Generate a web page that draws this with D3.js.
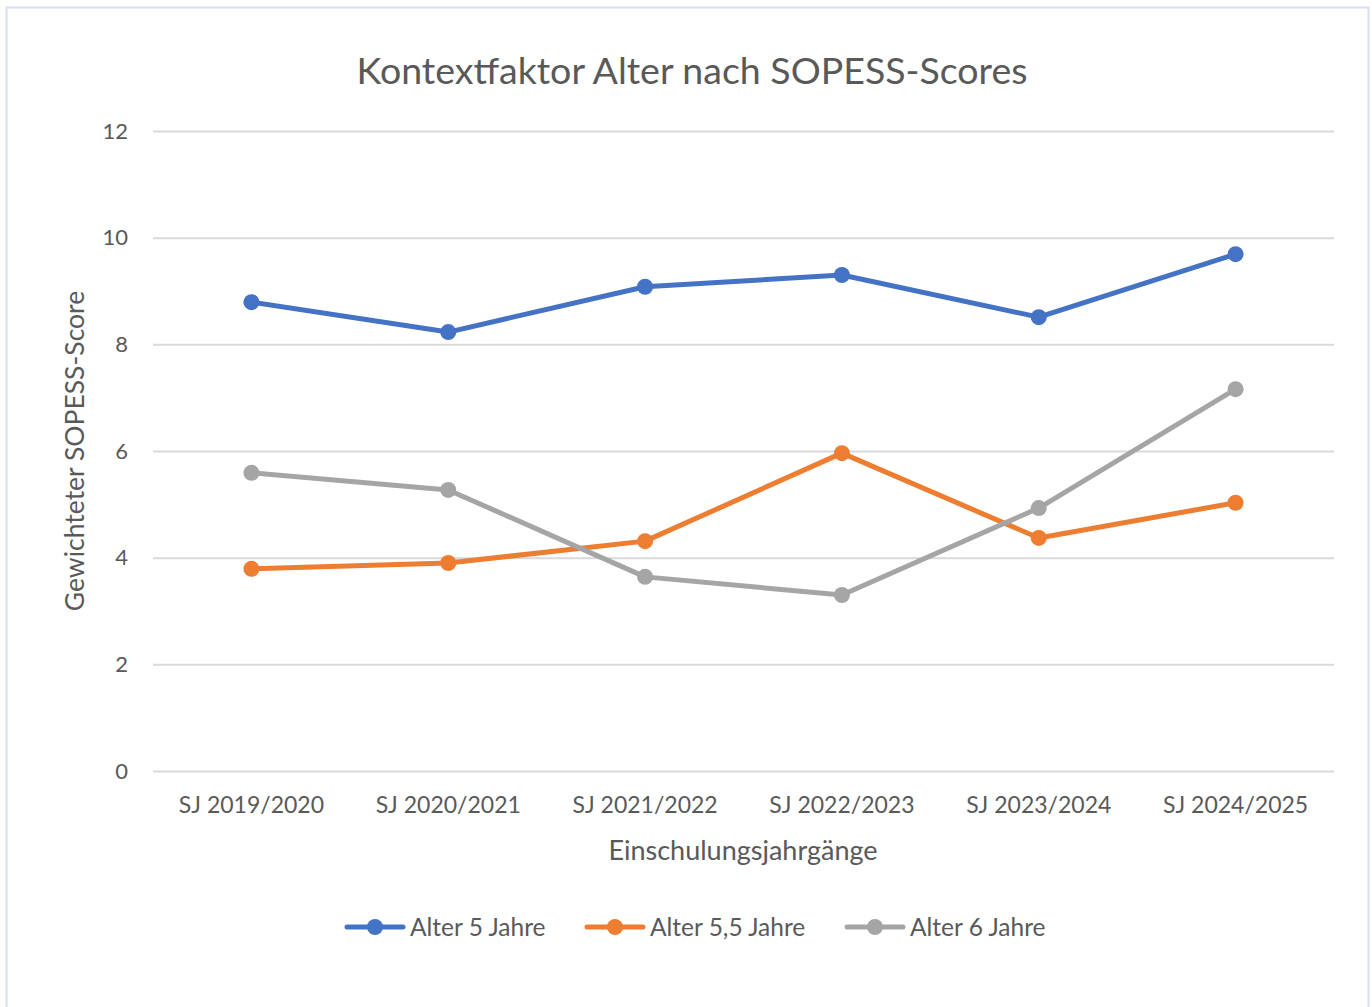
<!DOCTYPE html>
<html>
<head>
<meta charset="utf-8">
<script src="https://cdn.jsdelivr.net/npm/d3@7"></script>
<style>
  html, body { margin: 0; padding: 0; background: #fff; }
  svg text { font-family: Lato, "Open Sans", sans-serif; fill: #595959; }
</style>
</head>
<body>
<svg id="chart" width="1372" height="1007"></svg>
<script>
// Einschulungsjahrgänge (school-entry cohorts)
const categories = ["SJ 2019/2020", "SJ 2020/2021", "SJ 2021/2022", "SJ 2022/2023", "SJ 2023/2024", "SJ 2024/2025"];
// Weighted SOPESS score per age group
const alter5 = [8.79, 8.23, 9.08, 9.30, 8.51, 9.69];
const alter55 = [3.79, 3.90, 4.31, 5.96, 4.37, 5.03];
const alter6 = [5.59, 5.27, 3.64, 3.30, 4.93, 7.16];
const seriesNames = ["Alter 5 Jahre", "Alter 5,5 Jahre", "Alter 6 Jahre"];
const seriesColors = ["#4472c4", "#ed7d31", "#a5a5a5"];
const yTicks = [0, 2, 4, 6, 8, 10, 12];

const series = [alter5, alter55, alter6].map((values, i) => ({
  name: seriesNames[i], color: seriesColors[i], values
}));

const svg = d3.select("#chart");
const W = 1372, H = 1007;

// outer chart frame
svg.append("rect")
  .attr("x", 6.5).attr("y", 7.5).attr("width", W - 10).attr("height", H + 10)
  .attr("fill", "#fff").attr("stroke", "#d9ddef").attr("stroke-width", 2);

const plot = { left: 153, right: 1334, top: 131, bottom: 771 };

const x = d3.scaleBand().domain(categories).range([plot.left, plot.right]);
const y = d3.scaleLinear().domain([0, 12]).range([plot.bottom, plot.top]);

// horizontal gridlines + y tick labels
const yAxis = d3.axisLeft(y).tickValues(yTicks).tickSize(-(plot.right - plot.left)).tickPadding(25);
const gy = svg.append("g").attr("transform", `translate(${plot.left},0)`).call(yAxis);
gy.select(".domain").remove();
gy.selectAll(".tick line").attr("stroke", "#d9d9d9").attr("stroke-width", 2);
gy.selectAll(".tick text").attr("font-size", 22).style("fill", "#595959")
  .attr("font-family", "Lato, 'Open Sans', sans-serif");

// category axis
const xAxis = d3.axisBottom(x).tickSize(0).tickPadding(26);
const gx = svg.append("g").attr("transform", `translate(0,${plot.bottom})`).call(xAxis);
gx.select(".domain").remove();
gx.selectAll(".tick text").attr("font-size", 23).style("fill", "#595959")
  .attr("font-family", "Lato, 'Open Sans', sans-serif");

const cx = d => x(d) + x.bandwidth() / 2;

const line = d3.line()
  .x((d, i) => cx(categories[i]))
  .y(d => y(d));

const gs = svg.append("g");
series.forEach(s => {
  gs.append("path")
    .attr("d", line(s.values))
    .attr("fill", "none")
    .attr("stroke", s.color)
    .attr("stroke-width", 5)
    .attr("stroke-linejoin", "round")
    .attr("stroke-linecap", "round");
  gs.selectAll(null).data(s.values).enter().append("circle")
    .attr("cx", (d, i) => cx(categories[i]))
    .attr("cy", d => y(d))
    .attr("r", 8)
    .attr("fill", s.color);
});

// titles
svg.append("text")
  .attr("x", 692).attr("y", 84)
  .attr("text-anchor", "middle")
  .attr("font-size", 37.5)
  .text("Kontextfaktor Alter nach SOPESS-Scores");

svg.append("text")
  .attr("x", 743).attr("y", 860)
  .attr("text-anchor", "middle")
  .attr("font-size", 27)
  .text("Einschulungsjahrgänge");

svg.append("text")
  .attr("transform", "translate(84,451) rotate(-90)")
  .attr("text-anchor", "middle")
  .attr("font-size", 26.5)
  .text("Gewichteter SOPESS-Score");

// legend
const legendX = [345, 585, 845];
const lg = svg.append("g");
series.forEach((s, i) => {
  const g = lg.append("g").attr("transform", `translate(${legendX[i]},927)`);
  g.append("line").attr("x1", 2).attr("x2", 58).attr("y1", 0).attr("y2", 0)
    .attr("stroke", s.color).attr("stroke-width", 5).attr("stroke-linecap", "round");
  g.append("circle").attr("cx", 30).attr("cy", 0).attr("r", 8).attr("fill", s.color);
  g.append("text").attr("x", 65).attr("y", 8.5).attr("font-size", 24.5).text(s.name);
});
</script>
</body>
</html>
